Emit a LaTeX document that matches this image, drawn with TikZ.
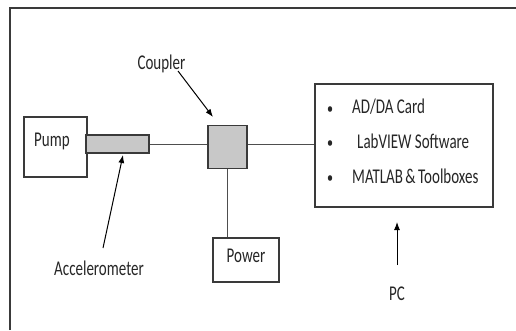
\documentclass[tikz,border=0pt]{standalone}
\usepackage{fontspec}
\setmainfont{Carlito}
\usetikzlibrary{arrows.meta}
\definecolor{edge}{HTML}{3A3A3A}
\definecolor{part}{HTML}{C8C8C8}
\definecolor{ink}{HTML}{262626}
\tikzset{
  box/.style={draw=edge, line width=1.4pt, fill=white, inner sep=0pt},
  partbox/.style={box, fill=part},
  wire/.style={draw=edge!90, line width=1pt},
  arr/.style={draw=black, line width=1pt, -{Latex[length=8pt,width=6pt]}},
  lbl/.style={text=ink, font=\fontsize{15}{18}\selectfont, yscale=1.4, transform shape, inner sep=1pt}
}
\begin{document}
\begin{tikzpicture}[x=1pt,y=1pt]
    \useasboundingbox (0,0) rectangle (516,330);
    \draw[edge, line width=1.6pt] (10,0) -- (10,322) -- (516,322);
    % blocks
    \node[box, minimum width=63pt, minimum height=60pt] (pump) at (55.5,183) {};
    \node[lbl, anchor=west] at (33,189) {Pump};
    \node[partbox, minimum width=63pt, minimum height=18pt] (accel) at (117.5,186) {};
    \node[partbox, minimum width=39pt, minimum height=43pt] (coupler) at (227.5,183) {};
    \node[box, minimum width=66pt, minimum height=44pt] (power) at (246,70) {};
    \node[lbl] at (246,74) {Power};
    \node[box, line width=1.2pt, minimum width=178pt, minimum height=123pt] (pc) at (404,184.5) {};
    \draw[wire] (accel.east) -- (accel.east -| coupler.west);
    \draw[wire] (coupler.east |- accel.east) -- (accel.east -| pc.west);
    \draw[wire] (coupler.south) -- (coupler.south |- power.north);
    % PC contents
    \foreach \y/\txt/\dx in {221/{AD/DA Card}/0, 187/{LabVIEW Software}/5, 152/{MATLAB\,\&\,Toolboxes}/0}{
        \fill[ink] (330,\y) ellipse (2.2pt and 2.8pt);
        \node[lbl, anchor=west] at (351+\dx,\y+2) {\txt};
    }
    % labels and pointers
    \node[lbl] (cpllbl) at (161.5,266) {Coupler};
    \node[lbl] (acclbl) at (99,62) {Accelerometer};
    \node[lbl] (pclbl) at (397,36) {PC};
    \coordinate (cpltail) at (178,259);
    \coordinate (cplhead) at (213,213);
    \coordinate (acctail) at (103,82);
    \coordinate (acchead) at (123,175);
    \coordinate (pctail) at (397,65);
    \coordinate (pchead) at (397,108);
    \draw[arr] (cpltail) -- (cplhead);
    \draw[arr] (acctail) -- (acchead);
    \draw[arr] (pctail) -- (pchead);
\end{tikzpicture}
\end{document}
